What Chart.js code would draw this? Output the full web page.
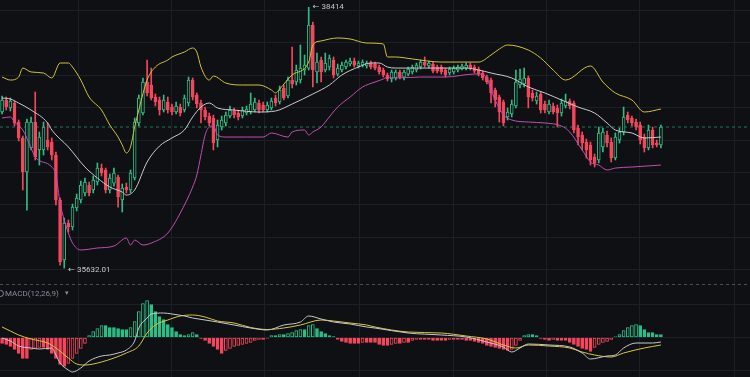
<!DOCTYPE html>
<html><head><meta charset="utf-8">
<script src="https://cdn.jsdelivr.net/npm/chart.js@4.4.1/dist/chart.umd.min.js"></script>
<style>
html,body{margin:0;padding:0;background:#0e1013;}
#wrap{position:relative;width:750px;height:377px;background:#0e1013;overflow:hidden;}
#main{position:absolute;left:0;top:0;}
#macd{position:absolute;left:0;top:284px;}
</style></head><body>
<div id="wrap"><canvas id="main" width="750" height="284"></canvas><canvas id="macd" width="750" height="93"></canvas></div>
<script>
// ---- candles ----
const open = [37297,37425,37340,37393,37190,37020,36657,36913,37190,36892,36892,36998,36977,36838,36358,35718,36113,36070,36273,36358,36433,36518,36465,36550,36699,36678,36465,36539,36603,36358,36497,36465,36593,37180,37286,37617,37585,37457,37425,37318,37404,37350,37297,37350,37318,37393,37638,37478,37393,37318,37254,37233,36998,37137,37180,37254,37308,37286,37254,37286,37297,37318,37393,37372,37318,37340,37446,37404,37553,37468,37638,37617,37638,37745,37766,38225,37724,37852,37745,37777,37852,37702,37745,37777,37809,37841,37788,37798,37788,37820,37809,37777,37745,37692,37649,37660,37724,37670,37702,37724,37745,37777,37830,37788,37809,37777,37777,37745,37713,37724,37745,37756,37766,37798,37777,37756,37713,37670,37638,37532,37457,37404,37244,37276,37361,37585,37596,37660,37500,37414,37489,37382,37297,37361,37340,37286,37361,37414,37393,37126,37052,36977,36945,36817,36785,36924,37052,36977,36806,36998,37084,37265,37233,37190,37158,37030,36913,37105,36966,36945];
const high = [37468,37457,37446,37414,37212,37041,37222,37244,37510,37084,37190,37180,37020,36870,36379,36166,36145,36315,36422,36561,36593,36550,36614,36753,36742,36699,36635,36699,36625,36529,36539,36678,37233,37478,37660,37852,37766,37489,37457,37478,37457,37382,37404,37382,37478,37670,37660,37500,37425,37350,37286,37265,37212,37254,37297,37361,37340,37318,37350,37361,37500,37446,37425,37404,37404,37446,37478,37574,37585,37670,37991,37798,38012,37905,38414,38257,37926,37884,37926,37905,37884,37809,37830,37852,37873,37873,37841,37852,37841,37841,37830,37798,37766,37713,37745,37745,37745,37745,37777,37798,37820,37852,37884,37841,37830,37798,37798,37766,37777,37788,37798,37809,37820,37820,37798,37777,37734,37692,37660,37553,37478,37425,37340,37425,37745,37756,37766,37681,37532,37510,37510,37414,37425,37393,37372,37436,37489,37436,37414,37158,37084,37009,36977,36849,37137,37126,37094,37020,37073,37126,37350,37297,37254,37222,37190,37062,37158,37137,36998,37158];
const low = [37276,37318,37308,37148,36988,36465,36251,36892,36785,36731,36838,36892,36785,36305,35664,35632.01,36017,36038,36241,36326,36401,36401,36433,36518,36614,36433,36433,36507,36283,36230,36433,36433,36571,37148,37265,37468,37425,37361,37265,37297,37286,37265,37276,37254,37297,37361,37425,37340,37180,37212,37148,36892,36924,37105,37148,37233,37233,37212,37233,37265,37276,37297,37286,37297,37297,37318,37361,37382,37425,37446,37553,37585,37606,37692,37745,37564,37606,37617,37724,37745,37660,37681,37724,37756,37788,37777,37766,37777,37766,37756,37745,37702,37670,37628,37617,37638,37649,37638,37681,37702,37724,37756,37777,37766,37713,37713,37702,37670,37692,37702,37724,37745,37745,37745,37713,37681,37638,37596,37393,37350,37190,37148,37212,37244,37340,37553,37564,37340,37414,37382,37286,37286,37276,37276,37137,37254,37340,37329,37073,36945,36892,36806,36731,36710,36753,36870,36924,36763,36785,36966,37052,37180,37148,37105,36956,36870,36892,36913,36924,36913];
const close = [37425,37350,37414,37180,37020,36657,37190,37190,36817,37030,37137,36924,36838,36358,35697,36113,36070,36283,36379,36518,36550,36433,36571,36699,36646,36465,36593,36646,36390,36486,36465,36646,37190,37446,37617,37500,37446,37404,37318,37425,37318,37297,37361,37286,37446,37638,37457,37382,37318,37244,37180,36966,37158,37212,37265,37318,37265,37244,37318,37329,37382,37404,37318,37318,37372,37414,37393,37532,37446,37638,37596,37745,37766,37798,38225,37745,37830,37724,37820,37873,37692,37766,37798,37830,37841,37798,37820,37830,37820,37777,37766,37724,37692,37649,37724,37724,37670,37724,37756,37777,37798,37830,37798,37820,37734,37734,37724,37692,37756,37766,37777,37788,37798,37766,37734,37702,37660,37617,37500,37425,37297,37180,37297,37382,37617,37649,37660,37457,37446,37468,37318,37318,37382,37297,37286,37393,37414,37361,37105,37030,36966,36892,36785,36753,37073,37084,36966,36806,37030,37084,37244,37212,37180,37137,36998,36913,37105,36945,36945,37137];

// ---- Bollinger bands (sampled candle index / price) ----
const upperIdx = [0,2,4,5,7,10,12,14,16,17,19,21,24,26,28,29,30,31,32,33,35,37,40,41,44,46,47,48,50,51,54,58,62,65,66,67,70,74,75,77,81,84,88,92,93,95,99,106,115,118,120,122,127,130,133,136,142,145,148,152,155,159];
const upperVal = [37670,37638,37670,37766,37724,37713,37660,37820,37820,37777,37638,37457,37318,37158,37030,36945,36860,36924,37137,37318,37638,37777,37852,37884,37937,37980,37937,37777,37638,37681,37606,37585,37585,37532,37500,37542,37692,37830,38012,38055,38087,38076,38033,38023,37884,37884,37863,37830,37830,37905,37969,38012,37958,37873,37745,37638,37788,37617,37500,37425,37297,37329];
const midIdx = [0,2,4,7,11,12,16,20,23,26,29,30,32,35,38,41,44,46,48,50,52,56,62,66,70,75,79,82,86,89,91,93,95,106,112,115,118,123,127,131,135,139,143,146,148,152,155,159];
const midVal = [37446,37436,37393,37318,37180,37105,36924,36710,36593,36497,36443,36411,36465,36763,36934,37020,37105,37244,37350,37393,37340,37318,37297,37308,37382,37489,37585,37692,37777,37820,37820,37777,37766,37766,37766,37745,37713,37660,37564,37500,37425,37350,37286,37180,37105,37073,37020,37030];
const lowerIdx = [0,2,3,5,7,8,12,13,14,15,16,17,19,23,27,30,31,32,34,36,40,43,46,47,48,49,50,51,52,54,59,63,65,69,70,73,74,75,77,78,81,84,87,90,92,93,95,101,107,114,115,117,118,121,123,127,131,135,137,140,142,144,146,148,152,159];
const lowerVal = [37233,37244,37190,37105,36913,36817,36710,36625,36326,36145,36006,35899,35825,35846,35867,35952,35878,35931,35878,35899,36006,36219,36497,36625,36838,37052,37137,37148,37052,37030,37030,37030,37073,37030,37084,37105,37052,37084,37137,37190,37350,37457,37564,37617,37649,37670,37660,37670,37670,37702,37702,37660,37532,37265,37212,37190,37180,37148,37084,36892,36763,36731,36678,36699,36710,36731];

// ---- MACD(12,26,9) ----
const macdHist = [-24,-28,-36,-48,-64,-84,-84,-48,-44,-40,-40,-48,-64,-84,-108,-116,-104,-84,-64,-44,-24,8,24,36,48,48,40,40,36,32,32,40,64,104,136,148,132,104,84,72,52,40,24,12,8,12,20,12,-4,-12,-24,-36,-48,-64,-52,-44,-36,-32,-28,-24,-20,-12,-8,-8,-4,8,8,12,12,16,20,28,32,32,48,52,36,24,16,8,4,-8,-16,-20,-24,-24,-24,-20,-20,-20,-20,-28,-32,-32,-28,-24,-24,-20,-20,-12,-8,-8,-8,-8,-12,-12,-12,-12,-8,-8,-8,-8,-12,-12,-16,-20,-24,-32,-36,-40,-44,-48,-52,-48,-32,-12,8,12,12,8,-4,-8,-12,-8,-12,-12,-12,-20,-28,-36,-44,-48,-56,-40,-28,-20,-16,-8,4,12,28,40,48,52,48,32,20,20,12,12];
const difIdx = [0,2,4,7,9,12,13,14,16,17,19,21,24,26,28,30,32,33,35,36,39,41,44,46,49,52,56,60,64,68,72,74,77,80,84,88,90,98,106,112,117,121,123,125,127,132,137,140,142,146,148,150,153,157,159];
const difVal = [-2,-14,-34,-42,-46,-42,-70,-102,-130,-138,-122,-94,-74,-70,-62,-50,-14,38,78,94,98,94,86,78,70,62,50,38,30,50,62,86,74,62,54,42,38,18,10,2,-18,-38,-58,-42,-26,-30,-38,-62,-86,-74,-70,-42,-22,-22,-18];
const deaIdx = [0,2,4,7,11,13,16,18,20,24,27,30,33,35,37,40,43,46,49,52,56,60,64,68,72,77,80,84,88,90,98,106,112,117,121,124,127,132,137,140,143,147,150,155,159];
const deaVal = [42,26,10,-6,-22,-42,-82,-106,-110,-98,-82,-62,-34,18,50,70,86,90,82,66,58,40,32,38,50,70,66,58,50,42,22,18,6,-6,-30,-42,-30,-34,-42,-58,-70,-78,-62,-42,-30];

// ---- grid positions ----
const gridX = [7.2,29.7,52.1,74.8,97.7,120.2,142.6,165.3];
const gridPrices = [38380,38034,37689,37343,36998,36652,36307,35961,35615];
const gridMacd = [134,0,-130];

// ---- styling ----
const SLOTS = 181;
const BG = '#0e1013', GRID = '#1c1f24';
const UP = '#2ebd85', DOWN = '#f6465d';
const N = close.length;
const isUp = i => close[i] >= open[i];
const pts = (idx, val) => idx.map((x, k) => ({x, y: val[k]}));

function xAxis() {
  return {type:'linear', min:-0.5, max:SLOTS-0.5, offset:false,
    grid:{color:GRID, drawTicks:false}, border:{display:false}, ticks:{display:false},
    afterBuildTicks: s => { s.ticks = gridX.map(v => ({value:v})); }};
}
function lineDs(data, color) {
  return {type:'line', data, borderColor:color, borderWidth:1, pointRadius:0,
    cubicInterpolationMode:'monotone', fill:false};
}

const extrema = {
  id:'extrema',
  afterDatasetsDraw(chart) {
    const {ctx, scales:{x, y}} = chart;
    let hi = 0, lo = 0;
    for (let i = 1; i < N; i++) { if (high[i] > high[hi]) hi = i; if (low[i] < low[lo]) lo = i; }
    ctx.save();
    ctx.font = '8px Roboto, "DejaVu Sans", sans-serif';
    ctx.fillStyle = '#c3c7ce';
    ctx.textBaseline = 'middle';
    ctx.fillText('\u2190 ' + high[hi], x.getPixelForValue(hi) + 4, y.getPixelForValue(high[hi]));
    ctx.fillText('\u2190 ' + low[lo], x.getPixelForValue(lo) + 4, y.getPixelForValue(low[lo]) + 2);
    ctx.restore();
  }
};

new Chart(document.getElementById('main'), {
  type:'bar',
  data:{datasets:[
    lineDs(pts(upperIdx, upperVal), '#d3c23a'),
    lineDs(pts(midIdx, midVal), '#c9cbd1'),
    lineDs(pts(lowerIdx, lowerVal), '#c04fb0'),
    {type:'bar', data: open.map((o, i) => ({x:i, y:[o, close[i]]})), grouped:false, barThickness:3,
      backgroundColor: c => isUp(c.dataIndex) ? BG : DOWN,
      borderColor: c => isUp(c.dataIndex) ? UP : DOWN,
      borderWidth:1, borderSkipped:false, minBarLength:1},
    {type:'bar', data: low.map((l, i) => ({x:i, y:[l, high[i]]})), grouped:false, barThickness:1,
      backgroundColor: c => isUp(c.dataIndex) ? UP : DOWN, borderWidth:0},
    {type:'line', data:[{x:-0.5, y:close[N-1]}, {x:SLOTS-0.5, y:close[N-1]}],
      borderColor:'rgba(46,189,133,0.6)', borderDash:[3,3], borderWidth:1, pointRadius:0}
  ]},
  options:{
    responsive:false, animation:false, devicePixelRatio:1, events:[],
    layout:{padding:0},
    plugins:{legend:{display:false}, tooltip:{enabled:false}},
    scales:{
      x: xAxis(),
      y: {type:'linear', min:35462, max:38492, position:'right',
        grid:{color:GRID, drawTicks:false}, border:{display:false}, ticks:{display:false},
        afterBuildTicks: s => { s.ticks = gridPrices.map(v => ({value:v})); }}
    }
  },
  plugins:[extrema]
});

const macdDecor = {
  id:'macdDecor',
  beforeDatasetsDraw(chart) {
    const ctx = chart.ctx;
    ctx.save();
    ctx.strokeStyle = '#4b4f57'; ctx.lineWidth = 1; ctx.setLineDash([3,3]);
    ctx.beginPath(); ctx.moveTo(0, 0.5); ctx.lineTo(chart.width, 0.5); ctx.stroke();
    ctx.restore();
  },
  afterDraw(chart) {
    const ctx = chart.ctx;
    ctx.save();
    ctx.strokeStyle = '#848e9c'; ctx.lineWidth = 1;
    ctx.beginPath(); ctx.arc(0.5, 9.5, 3, 0, Math.PI * 2); ctx.stroke();
    ctx.fillStyle = '#848e9c';
    ctx.font = '8px Roboto, sans-serif';
    ctx.textBaseline = 'middle';
    ctx.fillText('MACD(12,26,9)', 5, 9.5);
    ctx.font = '7px "DejaVu Sans", sans-serif';
    ctx.fillText('\u25BE', 65, 9.5);
    ctx.restore();
  }
};

new Chart(document.getElementById('macd'), {
  type:'bar',
  data:{datasets:[
    lineDs(pts(difIdx, difVal), '#c6c8cf'),
    lineDs(pts(deaIdx, deaVal), '#d9c63b'),
    {type:'bar', data: macdHist.map((v, i) => ({x:i, y:v})), grouped:false, barThickness:3,
      backgroundColor: c => { const i = c.dataIndex; const hollow = i > 0 && macdHist[i] > macdHist[i-1];
        return hollow ? BG : (macdHist[i] >= 0 ? UP : DOWN); },
      borderColor: c => macdHist[c.dataIndex] >= 0 ? UP : DOWN,
      borderWidth:1, borderSkipped:false}
  ]},
  options:{
    responsive:false, animation:false, devicePixelRatio:1, events:[],
    layout:{padding:0},
    plugins:{legend:{display:false}, tooltip:{enabled:false}},
    scales:{
      x: xAxis(),
      y: {type:'linear', min:-158, max:214, position:'right',
        grid:{color:GRID, drawTicks:false}, border:{display:false}, ticks:{display:false},
        afterBuildTicks: s => { s.ticks = gridMacd.map(v => ({value:v})); }}
    }
  },
  plugins:[macdDecor]
});
</script>
</body></html>
